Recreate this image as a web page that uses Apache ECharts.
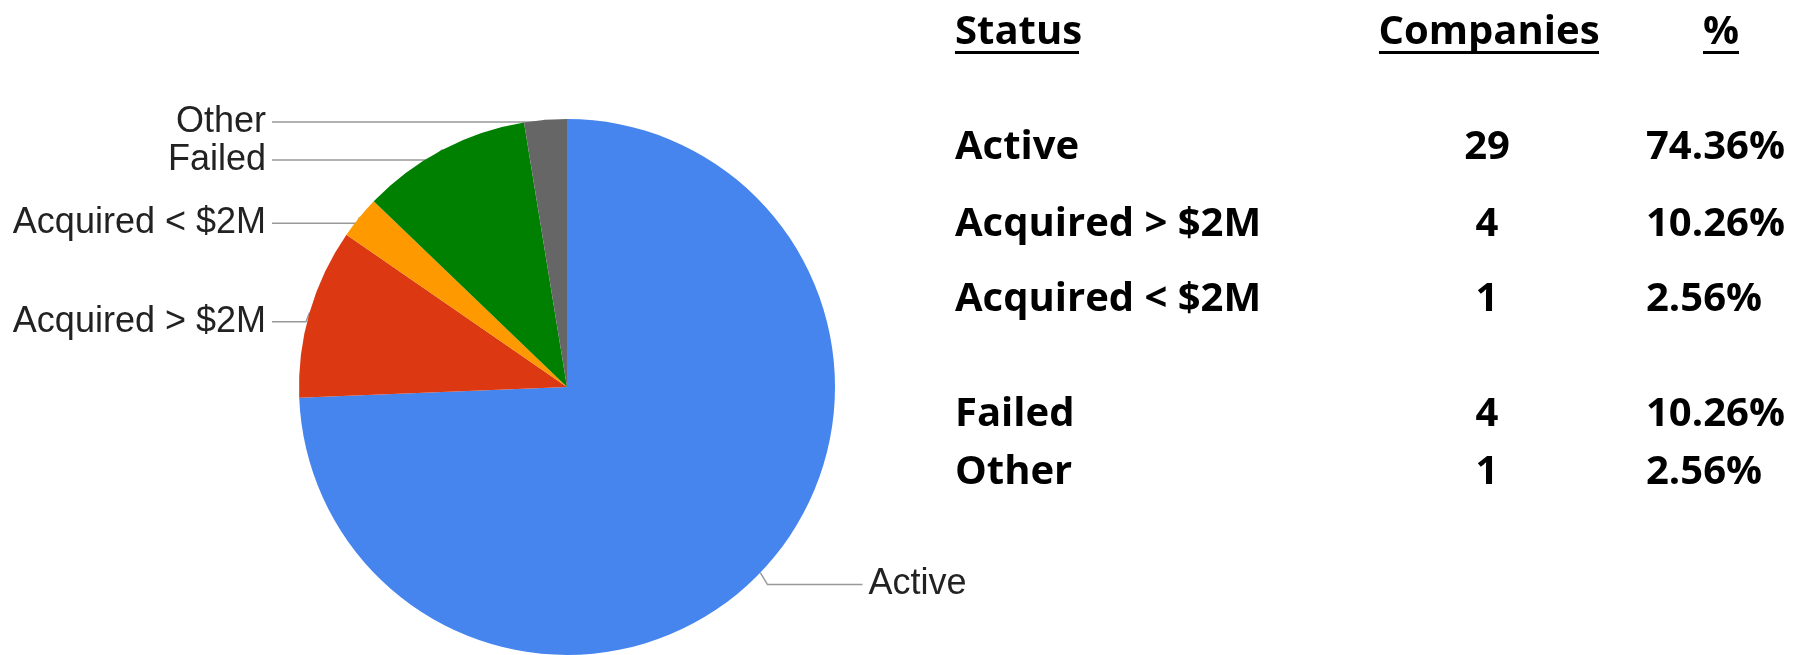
<!DOCTYPE html>
<html lang="en">
<head>
    <meta charset="UTF-8">
    <title>Company status</title>
    <style>
        * { margin: 0; padding: 0; }
        #main { width: 1810px; height: 655px; background: #fff; }
    </style>
    <script src="https://cdn.jsdelivr.net/npm/echarts@6/dist/echarts.min.js"></script>
</head>
<body>
    <div id="main"></div>
    <script>
        // data
        var statuses = ['Active', 'Acquired > $2M', 'Acquired < $2M', 'Failed', 'Other'];
        var companies = [29, 4, 1, 4, 1];
        var headers = ['Status', 'Companies', '%'];

        var colors = ['#4684ee', '#dc3912', '#ff9900', '#008000', '#666666'];

        var total = companies.reduce(function (a, b) { return a + b; }, 0);
        var percents = companies.map(function (v) {
            return (v / total * 100).toFixed(2) + '%';
        });

        var chart = echarts.init(document.getElementById('main'));

        var pieData = statuses.map(function (name, i) {
            var item = { name: name, value: companies[i], itemStyle: { color: colors[i] } };
            // the only right-hand label has a longer leader line
            if (i === 0) item.labelLine = { length2: 95 };
            return item;
        });

        // table on the right
        var rowY = [148, 225, 300, 415, 473];
        var tableFont = { fontFamily: 'Open Sans', fontWeight: 'bold', fontSize: 40, fill: '#000' };
        var graphics = [];

        function txt(x, y, s, align) {
            graphics.push({
                type: 'text',
                x: x,
                y: y,
                style: Object.assign({ text: s, textAlign: align, textVerticalAlign: 'middle' }, tableFont)
            });
        }

        txt(955, 33, headers[0], 'left');
        txt(1489, 33, headers[1], 'center');
        txt(1721, 33, headers[2], 'center');
        [[955, 1079], [1379, 1599], [1703, 1739]].forEach(function (u) {
            graphics.push({
                type: 'rect',
                shape: { x: u[0], y: 51, width: u[1] - u[0], height: 3 },
                style: { fill: '#000' }
            });
        });

        statuses.forEach(function (s, i) {
            txt(955, rowY[i], s, 'left');
            txt(1487, rowY[i], String(companies[i]), 'center');
            txt(1646, rowY[i], percents[i], 'left');
        });

        // left labels are right-aligned in one column, a bit lower than the slice middles
        var leftLabelRight = 266;
        var labelShift = 12;

        var option = {
            backgroundColor: '#ffffff',
            animation: false,
            graphic: graphics,
            series: [
                {
                    type: 'pie',
                    center: [567, 387],
                    radius: 268,
                    startAngle: 90,
                    clockwise: true,
                    avoidLabelOverlap: true,
                    data: pieData,
                    label: {
                        show: true,
                        position: 'outside',
                        bleedMargin: 2,
                        distanceToLabelLine: 6,
                        formatter: '{b}',
                        fontFamily: 'Liberation Sans',
                        fontSize: 36,
                        color: '#222'
                    },
                    labelLine: {
                        show: true,
                        length: 10,
                        length2: 28,
                        lineStyle: { color: '#999', width: 1.5 }
                    },
                    labelLayout: function (p) {
                        var pts = p.labelLinePoints;
                        if (!pts) return;
                        var isLeft = pts[2][0] < pts[0][0];
                        var ly = p.labelRect.y + p.labelRect.height / 2 + (isLeft ? labelShift : 5);
                        pts[1][1] = ly;
                        pts[2][1] = ly;
                        if (isLeft) {
                            pts[2][0] = leftLabelRight + 6;
                            return { x: leftLabelRight, y: ly, align: 'right', verticalAlign: 'middle', labelLinePoints: pts };
                        }
                        return { x: pts[2][0] + 6, y: ly, align: 'left', verticalAlign: 'middle', labelLinePoints: pts };
                    },
                    itemStyle: { borderWidth: 0 },
                    emphasis: { disabled: true }
                }
            ]
        };

        chart.setOption(option);
    </script>
</body>
</html>
